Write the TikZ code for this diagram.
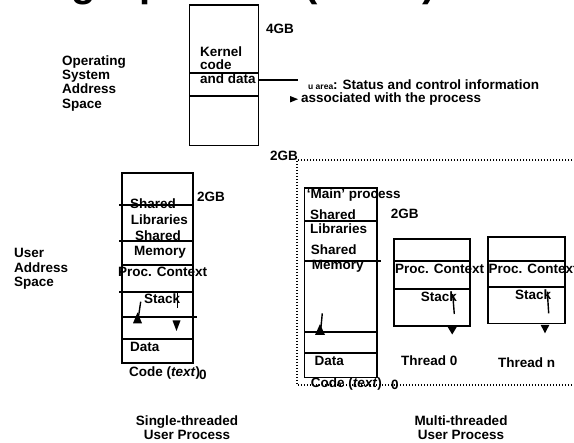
\documentclass[tikz,border=0pt]{standalone}
\usepackage{fontspec}
\setmainfont{Liberation Sans}
\newcommand\lblfont{\fontsize{13.5}{14}\selectfont\bfseries}
\newcommand\smallua{\fontsize{8.5}{9}\selectfont}
\tikzset{
  lbl/.style={anchor=base west, inner sep=0pt, font=\lblfont},
  lblc/.style={anchor=base, inner sep=0pt, font=\lblfont},
  boxline/.style={line width=1.8pt},
  thinline/.style={line width=1.4pt},
  dotline/.style={line width=1.3pt, dash pattern=on 1.3pt off 1.7pt},
  tri/.style={fill=black}
}
\begin{document}
\begin{tikzpicture}[x=1pt,y=-1pt]
\useasboundingbox (0,0) rectangle (574,443);
% clipped title
\node[anchor=base west, inner sep=0pt, font=\fontsize{40}{44}\selectfont\bfseries] (title) at (-98,-3) {Threading a process (SVR4)};

% ---------- kernel box ----------
\draw[boxline] (189.5,5) rectangle (258.5,145.5);
\draw[boxline] (189.5,73) -- (258.5,73);
\draw[boxline] (189.5,96) -- (258.5,96);
\coordinate (kout) at (258.5,80);
\coordinate (uend) at (298,80);
\draw[thinline] (kout) -- (uend);
\fill[tri] (290,96) -- (290,102.5) -- (298,99.2) -- cycle;
\node[lbl] (gb4) at (266,34) {4GB};
\node[lbl] (k1) at (200,56.5) {Kernel};
\node[lbl] (k2) at (200,70) {code};
\node[lbl] (k3) at (200,83.5) {and data};
\node[lbl] (os1) at (62,66) {Operating};
\node[lbl] (os2) at (62,80) {System};
\node[lbl] (os3) at (62,94) {Address};
\node[lbl] (os4) at (62,109) {Space};
\node[lbl] (ua1) at (308,89.3) {{\smallua u area}: Status and control information};
\node[lbl] (ua2) at (301,103) {associated with the process};

% ---------- dotted region ----------
\node[lbl] (gbtop) at (270,161) {2GB};
\draw[dotline] (575,160) -- (297,160) -- (297,385) -- (575,385);

% ---------- single-threaded process ----------
\draw[boxline] (121.7,172.7) rectangle (193.3,363.3);
\draw[boxline] (119,205) -- (193.3,205);
\draw[boxline] (119,241) -- (193.3,241);
\draw[boxline] (121.7,265) -- (193.3,265);
\draw[boxline] (119,291.7) -- (193.3,291.7);
\draw[boxline] (121.7,317.3) -- (197,317.3);
\draw[boxline] (121.7,339.3) -- (193.3,339.3);
\node[lbl] (s2gb) at (197,201.7) {2GB};
\node[lbl] (s1) at (130,209) {Shared};
\node[lbl] (s2) at (130.7,225) {Libraries};
\node[lbl] (s3) at (135,241) {Shared};
\node[lbl] (s4) at (134,256) {Memory};
\node[lbl] (s5) at (118,277) {Proc. Context};
\node[lbl] (s6) at (144,304) {Stack};
\node[lbl] (s7) at (130,351.7) {Data};
\node[lbl] (s8) at (129,376.5) {Code (\textit{text})};
\node[lbl] (s9) at (199,379.5) {0};
\draw[thinline] (140.7,301.7) -- (138.3,318);
\fill[tri] (133,323.3) -- (142,323.3) -- (137.5,312.5) -- cycle;
\draw[thinline] (177.3,291.7) -- (177.3,308);
\fill[tri] (172.5,320.5) -- (180.5,320.5) -- (176.5,331) -- cycle;
\node[lbl] (u1) at (14,258) {User};
\node[lbl] (u2) at (14,273) {Address};
\node[lbl] (u3) at (14,286.5) {Space};

% ---------- main process (multi-threaded) ----------
\draw[boxline] (304.5,188) rectangle (377,377.5);
\draw[boxline] (304.5,221) -- (377,221);
\draw[boxline] (304.5,261) -- (381,261);
\draw[boxline] (304.5,332) -- (377,332);
\draw[boxline] (304.5,352.7) -- (377,352.7);
\node[lbl] (m0) at (306.7,199) {‘Main’ process};
\node[lbl] (m1) at (310,220) {Shared};
\node[lbl] (m2) at (310,234) {Libraries};
\node[lbl] (m3) at (310.7,255) {Shared};
\node[lbl] (m4) at (311.7,270) {Memory};
\node[lbl] (m2gb) at (390.7,219) {2GB};
\node[lbl] (m5) at (314.5,366) {Data};
\node[lbl] (m6) at (310.7,388) {Code (\textit{text})};
\node[lbl] (m7) at (391,389.5) {0};
\draw[thinline] (322.3,313.3) -- (320.7,330);
\fill[tri] (315,335) -- (325,335) -- (320,324) -- cycle;

% ---------- thread 0 ----------
\draw[boxline] (394,239.3) rectangle (470,326);
\draw[boxline] (394,261) -- (470,261);
\draw[boxline] (394,289.3) -- (470,289.3);
\node[lbl] (t0a) at (395,274) {Proc. Context};
\node[lbl] (t0b) at (420.7,301.7) {Stack};
\draw[thinline] (452.7,294) -- (454.3,314);
\fill[tri] (447.7,327) -- (456.7,327) -- (452.2,334.5) -- cycle;
\node[lbl] (t0c) at (401,366) {Thread 0};

% ---------- thread n ----------
\draw[boxline] (488.3,237.3) rectangle (565,323.5);
\draw[boxline] (488.3,261) -- (565,261);
\draw[boxline] (488.3,286.7) -- (565,286.7);
\node[lbl] (tna) at (488.5,274) {Proc. Context};
\node[lbl] (tnb) at (515,300) {Stack};
\draw[thinline] (547.3,291.7) -- (548.7,313.3);
\fill[tri] (540.7,325) -- (549.3,325) -- (545,333.3) -- cycle;
\node[lbl] (tnc) at (498,368) {Thread n};

% ---------- captions ----------
\node[lblc] (c1) at (187,426) {Single-threaded};
\node[lblc] (c2) at (187,440) {User Process};
\node[lblc] (c3) at (461,426) {Multi-threaded};
\node[lblc] (c4) at (461,440) {User Process};
\end{tikzpicture}
\end{document}
